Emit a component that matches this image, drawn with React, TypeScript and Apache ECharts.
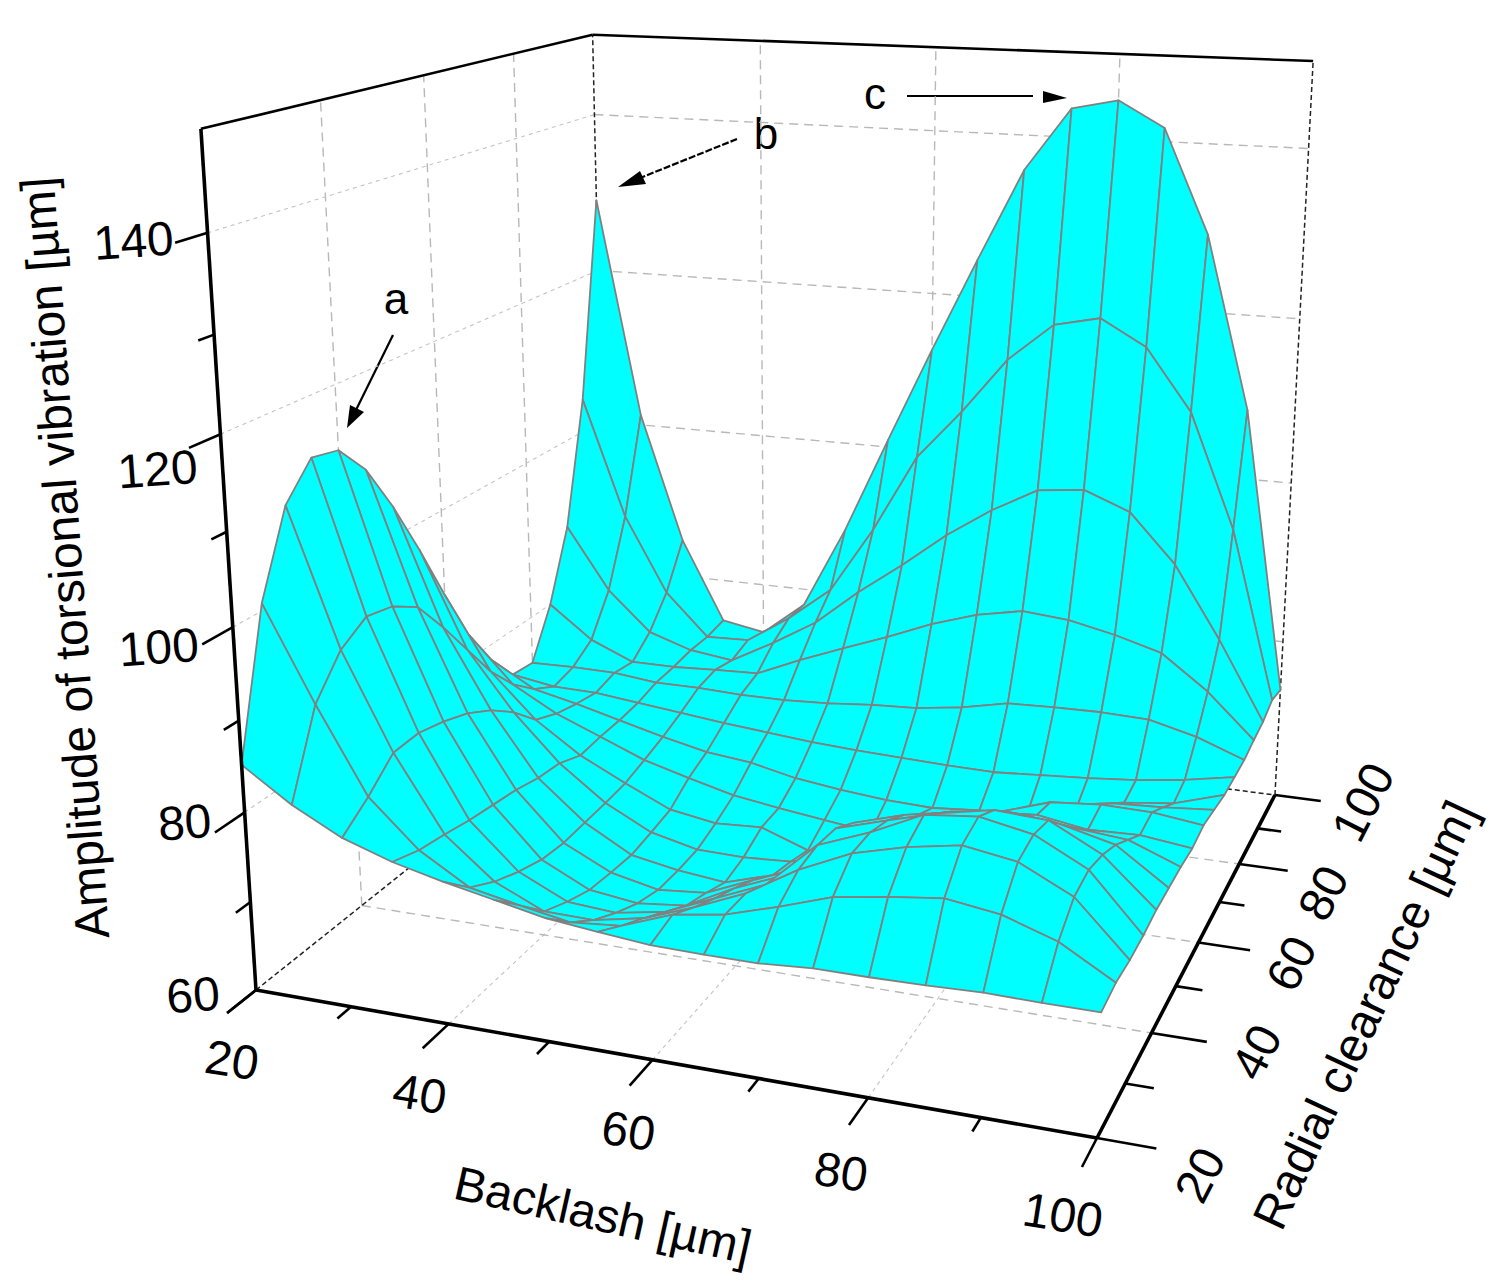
import React, { useEffect, useRef } from "react";
import * as echarts from "echarts";

const WIDTH = 1508;
const HEIGHT = 1285;

// Grid of the surface
const backlash = [20, 25, 30, 35, 40, 45, 50, 55, 60, 65, 70, 75, 80, 85, 90, 95, 100];
const clearance = [20, 25, 30, 35, 40, 45, 50, 55, 60, 65, 70, 75, 80, 85, 90, 95, 100];

// Amplitude rows: one row per clearance value, one column per backlash value
const amp20 = [85.2, 81.6, 78.8, 77, 75.7, 74.6, 73.5, 72.9, 72.4, 72.3, 72.3, 72.7, 72.7, 72.8, 73, 72.9, 72.9];
const amp25 = [100.8, 90.5, 81.1, 76, 72.7, 71.6, 70.6, 71.1, 73.2, 74.1, 75.8, 77.7, 78.6, 79.3, 78.5, 76.6, 73.3];
const amp30 = [109.7, 94.6, 83.9, 75.5, 71, 68.5, 68.4, 69.5, 71.6, 74, 77.4, 80, 81.5, 82.5, 81.6, 78.8, 73.1];
const amp35 = [113.4, 96.5, 84.1, 74.9, 69.8, 67.2, 66.8, 67.8, 70.2, 72.6, 77.8, 80, 82.7, 83.3, 82.2, 79.3, 73.2];
const amp40 = [112.8, 95.9, 83.4, 74.5, 68.9, 66.2, 65.5, 66.1, 69, 71.3, 77.4, 79.1, 80.7, 81.8, 81.5, 78.6, 73.5];
const amp45 = [109.2, 94.1, 82.4, 74.1, 68.6, 65.9, 64.7, 65.2, 67.6, 69.8, 75.8, 77.5, 78.6, 79.4, 78.8, 77.4, 73.5];
const amp50 = [103.5, 90, 80.8, 73.4, 68.8, 65.7, 64.7, 64.1, 65.8, 68.1, 73.7, 75.3, 76.4, 76.9, 76.2, 75.7, 73.5];
const amp55 = [96.9, 85.5, 78.6, 73.1, 69, 66.2, 64.9, 64.8, 65.1, 66.5, 71.7, 73.3, 74.3, 74.7, 73.8, 74, 73.3];
const amp60 = [89.8, 81, 75.7, 72, 69.3, 66.8, 65.9, 66.2, 64.2, 64.7, 69.8, 71.3, 72.1, 74, 74.5, 74.4, 73.7];
const amp65 = [83.1, 77.5, 74.5, 72.3, 70.1, 68.6, 67.2, 66.4, 65.7, 65, 67.9, 68.9, 69.4, 71.5, 72.5, 72.8, 73.3];
const amp70 = [78.1, 75, 73.8, 72.4, 71, 69.8, 69.2, 68, 67.3, 66.8, 66.6, 67.1, 67.3, 68.5, 70.4, 71.1, 72.9];
const amp75 = [74.3, 73.4, 73.3, 72.7, 72.1, 71.5, 71, 70.5, 70.2, 70, 69.8, 69.7, 70.1, 70.5, 71, 71.8, 72.9];
const amp80 = [74, 74.1, 74, 73.4, 73.4, 73.2, 73.2, 73.5, 74, 74.3, 75.1, 76.3, 76.5, 76.6, 76.4, 75, 72.9];
const amp85 = [80, 75.9, 73.6, 73.6, 73.9, 74.1, 76.5, 78.7, 80.8, 83.1, 84.9, 86, 85.5, 84.3, 82.7, 78.6, 73.3];
const amp90 = [88.7, 80.8, 75.8, 74, 73.3, 76.3, 79.6, 84.2, 88.3, 92.7, 96.4, 99.4, 100, 97.8, 91.9, 83.2, 73.6];
const amp95 = [104.2, 89.1, 79.4, 74, 74.2, 77.8, 82.2, 90.7, 100.6, 106.8, 113.7, 118.4, 119.6, 116.5, 109.1, 95.2, 74.4];
const amp100 = [129.1, 101.3, 84.9, 74.5, 73.5, 77.9, 88.6, 100.9, 112.9, 124.5, 135.8, 143.4, 144.6, 141.6, 129.3, 108.5, 73.8];
const amplitude = [amp20, amp25, amp30, amp35, amp40, amp45, amp50, amp55, amp60, amp65, amp70, amp75, amp80, amp85, amp90, amp95, amp100];

// Ticks
const xMajor = [20, 40, 60, 80, 100];
const xMinor = [30, 50, 70, 90];
const yMajor = [20, 40, 60, 80, 100];
const yMinor = [30, 50, 70, 90];
const zMajor = [60, 80, 100, 120, 140];
const zMinor = [70, 90, 110, 130];
const xLabelShift = [[-24, 70], [-29, 70], [-24, 71], [-27, 74], [-34, 77]];
const yLabelShift = [[103, 37], [105, 19], [93, 21], [84, 29], [88, 7]];
const zLabelShift = [[-63, 5], [-60, 10], [-74, 20], [-63, 35], [-74, 8]];

// Camera: box coordinates to page pixels
function project(x: number, y: number, z: number): number[] {
  const u = (x - 20) / 80;
  const v = (y - 20) / 80;
  const t = (z - 60) / 90;
  const w = 1 - 0.1081 * u + 0.2897 * v - 0.0901 * t;
  return [(256 + 722.4 * u + 528.1 * v - 73.2 * t) / w, (990 + 25 * u - 75.6 * v - 872.8 * t) / w];
}

type Seg = { a: number[]; b: number[]; kind: string };
const gridSegs: Seg[] = [];
const axisSegs: Seg[] = [];
const gridLevels = [40, 60, 80];
const wallLevels = [80, 100, 120, 140];
gridLevels.forEach((g) => {
  gridSegs.push({ a: [g, 20, 60], b: [g, 100, 60], kind: "faint" });
  gridSegs.push({ a: [20, g, 60], b: [100, g, 60], kind: "grid" });
  gridSegs.push({ a: [20, g, 60], b: [20, g, 150], kind: "grid" });
  gridSegs.push({ a: [g, 100, 60], b: [g, 100, 150], kind: "grid" });
});
wallLevels.forEach((z) => {
  gridSegs.push({ a: [20, 20, z], b: [20, 100, z], kind: "faint" });
  gridSegs.push({ a: [20, 100, z], b: [100, 100, z], kind: "grid" });
});
gridSegs.push({ a: [20, 20, 60], b: [20, 100, 60], kind: "hidden" });
gridSegs.push({ a: [20, 100, 60], b: [100, 100, 60], kind: "hidden" });
gridSegs.push({ a: [20, 100, 60], b: [20, 100, 150], kind: "hidden" });
gridSegs.push({ a: [100, 100, 60], b: [100, 100, 150], kind: "hidden" });
axisSegs.push({ a: [20, 20, 150], b: [20, 100, 150], kind: "edge" });
axisSegs.push({ a: [20, 100, 150], b: [100, 100, 150], kind: "edge" });
axisSegs.push({ a: [20, 20, 60], b: [20, 20, 150], kind: "axis" });
axisSegs.push({ a: [20, 20, 60], b: [100, 20, 60], kind: "axis" });
axisSegs.push({ a: [100, 20, 60], b: [100, 100, 60], kind: "axis" });
xMajor.forEach((x) => axisSegs.push({ a: [x, 20, 60], b: [x, 15, 60], kind: "tick" }));
xMinor.forEach((x) => axisSegs.push({ a: [x, 20, 60], b: [x, 17.5, 60], kind: "tick" }));
yMajor.forEach((y) => axisSegs.push({ a: [100, y, 60], b: [105, y, 60], kind: "tick" }));
yMinor.forEach((y) => axisSegs.push({ a: [100, y, 60], b: [102.5, y, 60], kind: "tick" }));
zMajor.forEach((z) => axisSegs.push({ a: [20, 20, z], b: [20, 15, z], kind: "tick" }));
zMinor.forEach((z) => axisSegs.push({ a: [20, 20, z], b: [20, 17.5, z], kind: "tick" }));

const segStyles: Record<string, any> = {
  grid: { stroke: "#b8b8b8", lineWidth: 1.4, lineDash: [9, 6] },
  faint: { stroke: "#c4c4c4", lineWidth: 1.1, lineDash: [4, 4] },
  hidden: { stroke: "#222222", lineWidth: 1.5, lineDash: [5, 3] },
  edge: { stroke: "#000000", lineWidth: 2.6 },
  axis: { stroke: "#000000", lineWidth: 3.6 },
  tick: { stroke: "#000000", lineWidth: 2.6 },
};

// Far cells first, so that near ones cover them
const cells: number[][] = [];
for (let j = clearance.length - 2; j >= 0; j--) {
  for (let i = 0; i < backlash.length - 1; i++) cells.push([i, j]);
}

function segRenderer(list: Seg[]) {
  return (params: any, api: any) => {
    const s = list[params.dataIndex];
    const p = api.coord(project(s.a[0], s.a[1], s.a[2]));
    const q = api.coord(project(s.b[0], s.b[1], s.b[2]));
    return {
      type: "line",
      shape: { x1: p[0], y1: p[1], x2: q[0], y2: q[1] },
      style: { fill: null, ...segStyles[s.kind] },
    };
  };
}

function cellRenderer(params: any, api: any) {
  const [i, j] = cells[params.dataIndex];
  const corner = (a: number, b: number) =>
    api.coord(project(backlash[a], clearance[b], amplitude[b][a]));
  return {
    type: "polygon",
    shape: { points: [corner(i, j), corner(i + 1, j), corner(i + 1, j + 1), corner(i, j + 1)] },
    style: { fill: "#00ffff", stroke: "#808080", lineWidth: 1.8, lineJoin: "round" },
  };
}

const FONT = '"Liberation Sans", Arial, sans-serif';

function label(text: string, x: number, y: number, rotationDeg: number, size = 48) {
  return {
    type: "text",
    x,
    y,
    rotation: (rotationDeg * Math.PI) / 180,
    silent: true,
    style: {
      text,
      fontFamily: FONT,
      fontSize: size,
      fill: "#000000",
      align: "center",
      verticalAlign: "middle",
    },
  };
}

function arrowLine(x1: number, y1: number, x2: number, y2: number, dash?: number[]) {
  return {
    type: "line",
    silent: true,
    shape: { x1, y1, x2, y2 },
    style: { stroke: "#000000", lineWidth: 2.2, lineDash: dash },
  };
}

function arrowHead(points: number[][]) {
  return { type: "polygon", silent: true, shape: { points }, style: { fill: "#000000" } };
}

function buildGraphics() {
  const out: any[] = [];
  xMajor.forEach((x, k) => {
    const p = project(x, 20, 60);
    out.push(label(String(x), p[0] + xLabelShift[k][0], p[1] + xLabelShift[k][1], -9));
  });
  yMajor.forEach((y, k) => {
    const p = project(100, y, 60);
    out.push(label(String(y), p[0] + yLabelShift[k][0], p[1] + yLabelShift[k][1], 63));
  });
  zMajor.forEach((z, k) => {
    const p = project(20, 20, z);
    out.push(label(String(z), p[0] + zLabelShift[k][0], p[1] + zLabelShift[k][1], 4));
  });
  out.push(label("Amplitude of torsional vibration [µm]", 65, 558, 94.2));
  out.push(label("Backlash [µm]", 603, 1215, -12.6));
  out.push(label("Radial clearance [µm]", 1365, 1015, 65));
  out.push(label("a", 396, 298, 0, 44));
  out.push(label("b", 766, 133, 0, 44));
  out.push(label("c", 875, 93, 0, 44));
  out.push(arrowLine(393, 335, 355, 412));
  out.push(arrowHead([[347, 428], [350, 405], [364, 412]]));
  out.push(arrowLine(737, 139, 640, 178, [7, 2]));
  out.push(arrowHead([[618, 187], [640, 171], [646, 184]]));
  out.push(arrowLine(907, 96, 1033, 96));
  out.push(arrowHead([[1067, 98], [1043, 91], [1043, 103]]));
  return out;
}

export default function App() {
  const ref = useRef<HTMLDivElement>(null);
  useEffect(() => {
    if (!ref.current) return;
    const chart = echarts.init(ref.current, undefined, { renderer: "svg" });
    const hiddenAxis = { type: "value", show: false };
    chart.setOption({
      animation: false,
      backgroundColor: "#ffffff",
      grid: { left: 0, right: 0, top: 0, bottom: 0 },
      xAxis: { ...hiddenAxis, min: 0, max: WIDTH },
      yAxis: { ...hiddenAxis, min: 0, max: HEIGHT, inverse: true },
      series: [
        {
          type: "custom",
          name: "grid",
          silent: true,
          clip: false,
          z: 1,
          data: gridSegs.map((_, k) => [k, 0]),
          renderItem: segRenderer(gridSegs),
        },
        {
          type: "custom",
          name: "surface",
          silent: true,
          clip: false,
          z: 2,
          data: cells,
          renderItem: cellRenderer,
        },
        {
          type: "custom",
          name: "axes",
          silent: true,
          clip: false,
          z: 3,
          data: axisSegs.map((_, k) => [k, 0]),
          renderItem: segRenderer(axisSegs),
        },
      ],
      graphic: { elements: buildGraphics() },
    });
    return () => chart.dispose();
  }, []);
  return (
    <div
      ref={ref}
      style={{ position: "absolute", left: 0, top: 0, width: WIDTH, height: HEIGHT }}
    />
  );
}
